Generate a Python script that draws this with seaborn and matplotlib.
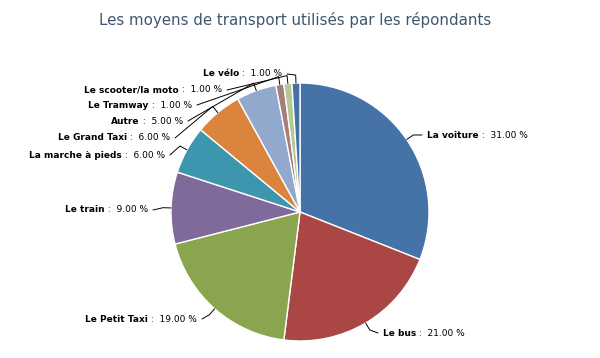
import numpy as np
import matplotlib
matplotlib.use('Agg')
import matplotlib.pyplot as plt
import seaborn as sns

# Data
modes = ['La voiture', 'Le bus', 'Le Petit Taxi', 'Le train', 'La marche à pieds',
         'Le Grand Taxi', 'Autre', 'Le Tramway', 'Le scooter/la moto', 'Le vélo']
shares = [31, 21, 19, 9, 6, 6, 5, 1, 1, 1]
colors = ['#4572A7', '#AA4643', '#89A54E', '#80699B', '#3D96AE',
          '#DB843D', '#92A8CD', '#A47D7C', '#B5CA92', '#4572A7']

# label anchor (pixel, y from top) - layout only
label_pos = [(427, 135), (383, 333), (197, 319), (148, 210), (165, 155),
             (170, 138), (183, 121), (192, 105), (222, 90), (282, 74)]

sns.set_theme(style='white')
plt.rcParams['font.family'] = ['DejaVu Sans']

W, H = 600, 358
fig = plt.figure(figsize=(6, 3.58), dpi=100)
ax = fig.add_axes([0, 0, 1, 1])

cx, cy, r = 300, H - 212, 129
wedges, _ = ax.pie(shares, colors=colors, startangle=90, counterclock=False,
                   center=(cx, cy), radius=r, frame=True,
                   wedgeprops=dict(edgecolor='white', linewidth=1))
ax.set_xlim(0, W)
ax.set_ylim(0, H)
ax.set_aspect('equal')
ax.axis('off')

fig.text(295 / W, 1 - 20 / H, 'Les moyens de transport utilisés par les répondants',
         ha='center', va='center', fontsize=10.8, color='#3E576F')

fig.canvas.draw()
renderer = fig.canvas.get_renderer()
fs = 6.5
for w, name, val, (lx, ly) in zip(wedges, modes, shares, label_pos):
    ang = np.deg2rad((w.theta1 + w.theta2) / 2)
    ex, ey = cx + r * np.cos(ang), cy + r * np.sin(ang)
    mx, my = cx + (r + 8) * np.cos(ang), cy + (r + 8) * np.sin(ang)
    ty = H - ly
    if np.cos(ang) > 0:
        ax.plot([ex, mx, lx - 5], [ey, my, ty], color='black', lw=0.7)
        t1 = ax.text(lx, ty, name, ha='left', va='center', fontsize=fs,
                     fontweight='bold', color='black')
        bb = t1.get_window_extent(renderer)
        ax.text(bb.x1, ty, f' :  {val:.2f} %', ha='left', va='center',
                fontsize=fs, color='black')
    else:
        ax.plot([ex, mx, lx + 5], [ey, my, ty], color='black', lw=0.7)
        t2 = ax.text(lx, ty, f' :  {val:.2f} %', ha='right', va='center',
                     fontsize=fs, color='black')
        bb = t2.get_window_extent(renderer)
        ax.text(bb.x0, ty, name, ha='right', va='center', fontsize=fs,
                fontweight='bold', color='black')

fig.savefig('out.png', dpi=100, facecolor='white')
